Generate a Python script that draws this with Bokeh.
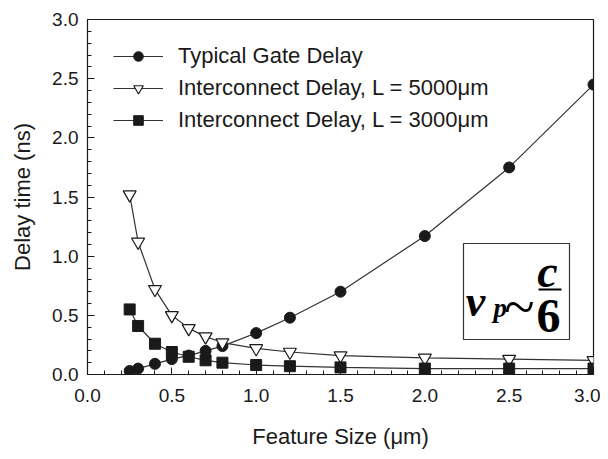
from bokeh.plotting import figure
from bokeh.models import (Range1d, SingleIntervalTicker, PrintfTickFormatter, Legend, LegendItem,
                          Label, BoxAnnotation)
from bokeh.embed import file_html
from bokeh.resources import INLINE

feature_size = [0.25, 0.3, 0.4, 0.5, 0.6, 0.7, 0.8, 1.0, 1.2, 1.5, 2.0, 2.5, 3.0]
gate_delay = [0.03, 0.05, 0.09, 0.13, 0.16, 0.20, 0.24, 0.35, 0.48, 0.70, 1.17, 1.75, 2.45]
inter_5000 = [1.52, 1.12, 0.72, 0.50, 0.39, 0.32, 0.27, 0.22, 0.19, 0.16, 0.14, 0.13, 0.12]
inter_3000 = [0.55, 0.41, 0.26, 0.19, 0.15, 0.12, 0.10, 0.08, 0.07, 0.06, 0.05, 0.05, 0.05]

labels = ["Typical Gate Delay", "Interconnect Delay, L = 5000\u03bcm", "Interconnect Delay, L = 3000\u03bcm"]

FONT = "Liberation Sans"
SERIF = "Liberation Serif"
INK = "#1a1a1a"
LINE = "#333333"

p = figure(frame_width=506, frame_height=355, output_backend="svg", toolbar_location=None,
           x_range=Range1d(0, 3), y_range=Range1d(0, 3),
           min_border_left=87, min_border_right=7, min_border_top=19, min_border_bottom=77,
           background_fill_color="white", border_fill_color="white")

p.grid.visible = False
p.outline_line_color = INK
p.outline_line_width = 1.2

for ax in (p.xaxis[0], p.yaxis[0]):
    ax.ticker = SingleIntervalTicker(interval=0.5, num_minor_ticks=5)
    ax.formatter = PrintfTickFormatter(format="%.1f")
    ax.major_tick_in = 7
    ax.major_tick_out = 0
    ax.minor_tick_in = 4
    ax.minor_tick_out = 0
    ax.axis_line_color = INK
    ax.major_tick_line_color = INK
    ax.minor_tick_line_color = INK
    ax.major_label_text_font = FONT
    ax.major_label_text_font_size = "19px"
    ax.major_label_text_color = INK
    ax.axis_label_text_font = FONT
    ax.axis_label_text_font_size = "22px"
    ax.axis_label_text_font_style = "normal"
    ax.axis_label_text_color = INK

p.xaxis.axis_label = "Feature Size (\u03bcm)"
p.yaxis.axis_label = "Delay time (ns)"
p.xaxis.major_label_standoff = 14
p.yaxis.major_label_standoff = 9
p.xaxis.axis_label_standoff = 19
p.yaxis.axis_label_standoff = 14

l1 = p.line(feature_size, gate_delay, line_color=LINE, line_width=1.2)
s1 = p.scatter(feature_size, gate_delay, marker="circle", size=11, fill_color=INK, line_color=INK)
l2 = p.line(feature_size, inter_5000, line_color=LINE, line_width=1.2)
s2 = p.scatter(feature_size, inter_5000, marker="inverted_triangle", size=13, fill_color="white",
               line_color=INK, line_width=1.2)
l3 = p.line(feature_size, inter_3000, line_color=LINE, line_width=1.2)
s3 = p.scatter(feature_size, inter_3000, marker="square", size=11, fill_color=INK, line_color=INK)

legend = Legend(items=[LegendItem(label=labels[0], renderers=[l1, s1]),
                       LegendItem(label=labels[1], renderers=[l2, s2]),
                       LegendItem(label=labels[2], renderers=[l3, s3])],
                location=(26, 241), orientation="vertical",
                glyph_width=50, glyph_height=24, label_height=24, spacing=6,
                label_standoff=15, padding=0, margin=0,
                label_text_font=FONT, label_text_font_size="22px", label_text_color=INK,
                border_line_color=None, background_fill_alpha=0)
p.add_layout(legend, "center")

# formula box
box = BoxAnnotation(left=376, right=482, bottom=35, top=131,
                    left_units="screen", right_units="screen", bottom_units="screen", top_units="screen",
                    fill_color="white", fill_alpha=1, line_color="#333333", line_alpha=1, line_width=1.2)
p.add_layout(box)

def lab(x, y, t, size, style="bold italic", align="center", baseline="alphabetic"):
    p.add_layout(Label(x=x, y=y, x_units="screen", y_units="screen", text=t,
                       text_font=SERIF, text_font_size=size, text_font_style=style,
                       text_color="black", text_align=align, text_baseline=baseline))

lab(388, 73, "v", "44px")
lab(406, 67, "p", "27px", align="left")
lab(432, 68, "~", "56px", style="normal", baseline="middle")
lab(460, 103, "c", "46px")
lab(461, 59, "6", "48px", style="bold")
frac = BoxAnnotation(left=451, right=474, bottom=84, top=86,
                     left_units="screen", right_units="screen", bottom_units="screen", top_units="screen",
                     fill_color="black", fill_alpha=1, line_color=None)
p.add_layout(frac)

open("out.html", "w").write(file_html(p, INLINE))
